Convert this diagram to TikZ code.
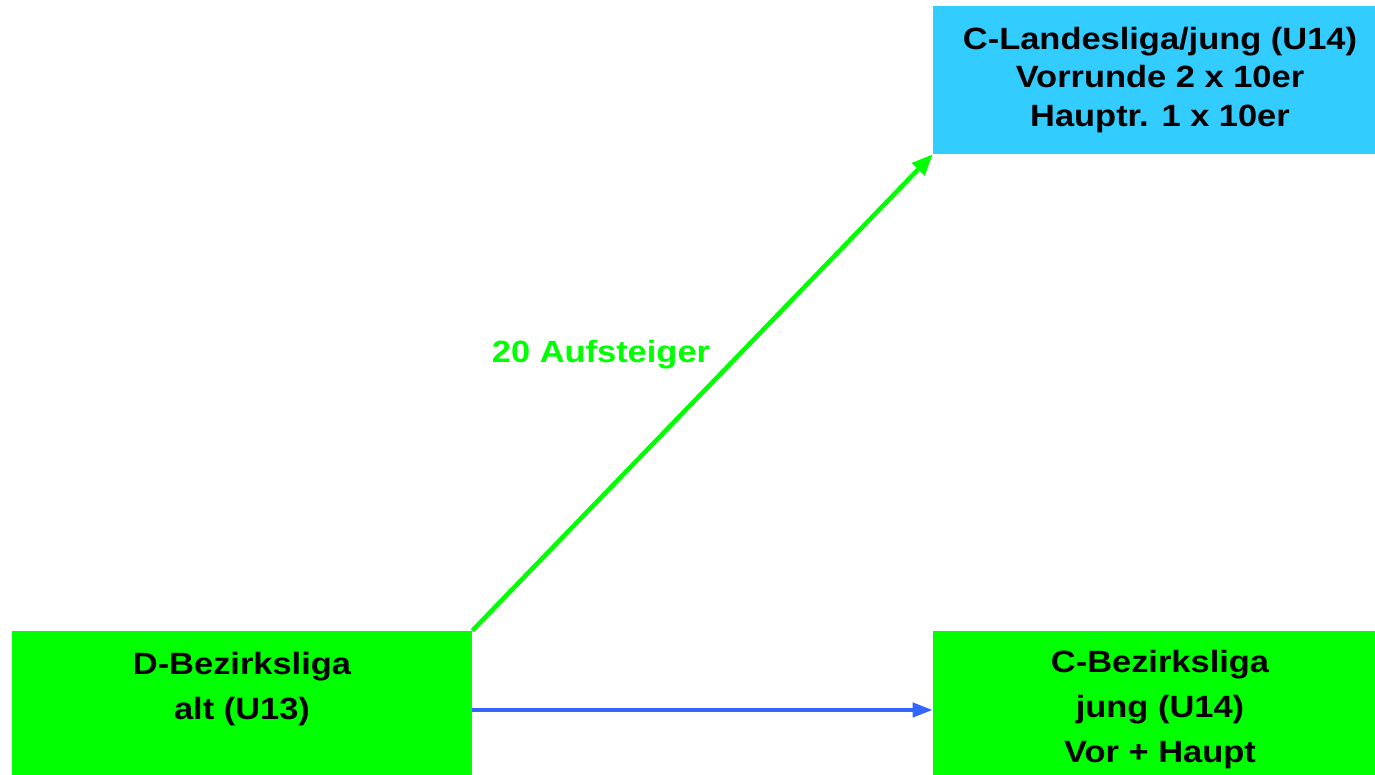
\documentclass[tikz,border=0pt]{standalone}
\usepackage{fontspec}
\setmainfont{Liberation Sans}[FakeStretch=1.12]
\usetikzlibrary{arrows.meta,positioning}
\definecolor{landblue}{RGB}{51,204,255}
\definecolor{flowblue}{RGB}{51,102,255}
\tikzset{ligatext/.style={align=center, inner sep=0pt, font=\fontsize{17.5pt}{25.6pt}\selectfont\bfseries}}
\tikzset{liga/.style={ligatext, fill=green, minimum height=3.16cm}}

\begin{document}
\begin{tikzpicture}[x=0.02cm, y=0.02cm]
        \useasboundingbox (0,0) rectangle (1375,774);
        \pgfmathsetmacro{\rx}{1160}
        \pgfmathsetmacro{\lx}{242}
        \pgfmathsetmacro{\by}{64}

        \coordinate (T) at (\rx, 694) {};
        \coordinate (R) at (\rx, \by) {};
        \coordinate (L) at (\lx, \by) {};
        %
        \node[liga, fill=landblue, minimum width=9.08cm, minimum height=2.96cm,
              font=\fontsize{17.5pt}{21.9pt}\selectfont\bfseries] (cland) at (T)
              {C-Landesliga/jung (U14)\\Vorrunde 2 x 10er\\Hauptr. 1 x 10er};
        \node[liga, minimum width=9.08cm] (cbez) at (R) {C-Bezirksliga\\jung (U14)\\Vor + Haupt};
        \node[liga, minimum width=9.2cm] (dbez) at (L) {};
        \node[ligatext, anchor=base] (dbeztxt) at ([yshift=-1.78cm]dbez.north) {D-Bezirksliga\\alt (U13)};
        %
        \draw[green, line width=0.09cm, -{Triangle[length=0.42cm, width=0.34cm]}] (dbez.north east) --
              node[pos=0.58, left=0.34cm, ligatext, text=green, inner sep=0.2cm]{20 Aufsteiger} (cland.south west);
        \draw[flowblue, line width=0.08cm, -{Triangle[length=0.4cm, width=0.28cm]}] (dbez.east) -- (cbez.west);
    \end{tikzpicture}
\end{document}
